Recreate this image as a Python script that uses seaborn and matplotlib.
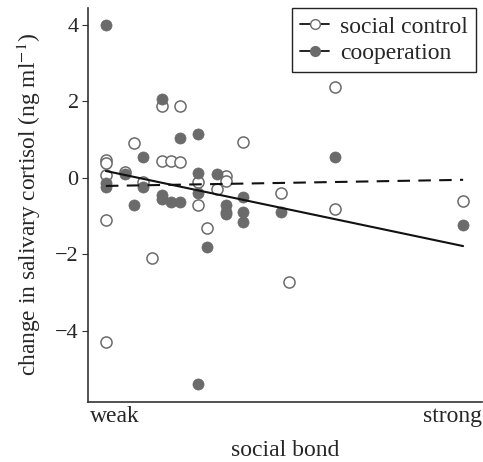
import matplotlib
matplotlib.use('Agg')
import pandas as pd
import seaborn as sns
import matplotlib.pyplot as plt
from matplotlib.lines import Line2D

# social bond strength (0 = weakest observed, 1 = strongest observed)
control_bond = [0.0, 0.0, 0.0, 0.0, 0.0, 0.053, 0.078, 0.103, 0.128, 0.156, 0.156,
                0.182, 0.207, 0.207, 0.257, 0.257, 0.282, 0.310, 0.335, 0.335,
                0.385, 0.489, 0.514, 0.642, 0.642, 1.0]
control_cort = [0.47, 0.40, 0.08, -1.11, -4.29, 0.15, 0.90, -0.12, -2.10, 1.88, 0.43,
                0.45, 0.42, 1.89, -0.11, -0.70, -1.30, -0.30, 0.06, -0.07,
                0.95, -0.40, -2.71, 2.38, -0.81, -0.60]

coop_bond = [0.0, 0.0, 0.0, 0.053, 0.078, 0.103, 0.103, 0.156, 0.156, 0.156,
             0.182, 0.207, 0.207, 0.257, 0.257, 0.257, 0.257, 0.282, 0.310,
             0.335, 0.335, 0.335, 0.385, 0.385, 0.385, 0.489, 0.642, 1.0]
coop_cort = [4.0, -0.14, -0.24, 0.10, -0.70, -0.23, 0.54, 2.05, -0.44, -0.56,
             -0.64, -0.62, 1.04, 1.15, 0.14, -0.40, -5.39, -1.81, 0.10,
             -0.70, -0.88, -0.95, -0.49, -0.90, -1.16, -0.90, 0.54, -1.24]

# model fits
fit_bond = [0.0, 1.0]
fit_control = [-0.21, -0.05]
fit_coop = [0.18, -1.78]

sns.set_style('ticks')
plt.rcParams['font.family'] = ['Liberation Serif', 'DejaVu Serif']
plt.rcParams['mathtext.fontset'] = 'stix'

grey = '#6b6b6b'
fig = plt.figure(figsize=(4.83, 4.62), dpi=100)
ax = fig.add_axes([0.183, 0.130, 0.815, 0.853])

sns.scatterplot(x=control_bond, y=control_cort, ax=ax, s=64, color='white',
                edgecolor=grey, linewidth=1.1, zorder=2)
sns.scatterplot(x=coop_bond, y=coop_cort, ax=ax, s=64, color=grey,
                edgecolor=grey, linewidth=0.5, zorder=2)
sns.lineplot(x=fit_bond, y=fit_control, ax=ax, color='#111111', lw=1.5,
             zorder=3).lines[-1].set_dashes([6, 4])
sns.lineplot(x=fit_bond, y=fit_coop, ax=ax, color='#111111', lw=1.5, zorder=3)

ax.set_xlim(-0.049, 1.053)
ax.set_ylim(-5.85, 4.44)
ax.set_yticks([-4, -2, 0, 2, 4])
ax.set_xticks([0.025, 0.97])
ax.set_xticklabels(['weak', 'strong'])
ax.tick_params(axis='x', length=0, labelsize=17, pad=3)
ax.tick_params(axis='y', length=4, labelsize=16, pad=3, color='#333333')
ax.set_xlabel('social bond', fontsize=17, labelpad=9)
ax.set_ylabel('change in salivary cortisol (ng ml$^{-1}$)', fontsize=16.8, labelpad=9)
for side in ['top', 'right']:
    ax.spines[side].set_visible(False)
for side in ['left', 'bottom']:
    ax.spines[side].set_color('#333333')
    ax.spines[side].set_linewidth(1.2)

handles = [
    Line2D([], [], color='#111111', lw=1.3, marker='o', markersize=7,
           markerfacecolor='white', markeredgecolor=grey),
    Line2D([], [], color='#111111', lw=1.3, marker='o', markersize=7,
           markerfacecolor=grey, markeredgecolor=grey),
]
leg = ax.legend(handles, ['social control', 'cooperation'], loc='upper right',
                bbox_to_anchor=(0.985, 1.0), fontsize=17, frameon=True,
                fancybox=False, edgecolor='#222222', framealpha=1,
                handlelength=1.25, handletextpad=0.45, borderpad=0.35,
                borderaxespad=0.0, labelspacing=0.2)
leg.get_frame().set_linewidth(1.0)

fig.savefig('out.png', dpi=100)
